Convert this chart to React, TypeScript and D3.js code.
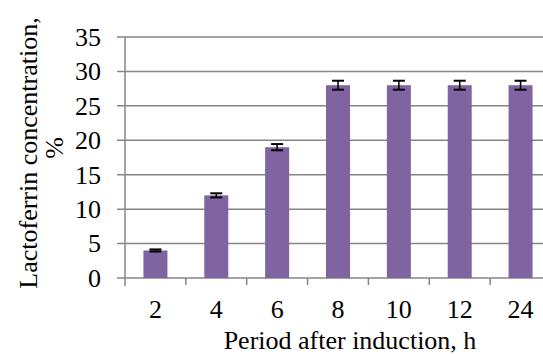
import React from "react";
import * as d3 from "d3";

const categories = ["2", "4", "6", "8", "10", "12", "24"];
const values = [4, 12, 19, 28, 28, 28, 28];
const errors = [0.15, 0.3, 0.45, 0.65, 0.65, 0.65, 0.65];
const yTicks = [0, 5, 10, 15, 20, 25, 30, 35];
const xTitle = "Period after induction, h";
const yTitle = ["Lactoferrin concentration,", "%"];

const W = 543;
const H = 354;
const left = 125;
const right = 551;
const top = 37;
const bottom = 278;
const FONT = "'Liberation Serif', 'Times New Roman', serif";
const FS = 26;

export default function App() {
  const x = d3.scaleBand<string>().domain(categories).range([left, right]).paddingInner(0).paddingOuter(0);
  const y = d3.scaleLinear().domain([0, 35]).range([bottom, top]);
  const bw = 24;
  const grid = "#868686";
  return (
    <svg width={W} height={H} style={{ position: "absolute", left: 0, top: 0, background: "#fff" }} fontFamily={FONT}>
      {yTicks.map((t) => (
        <g key={t}>
          <line x1={left - 8} x2={W} y1={y(t)} y2={y(t)} stroke={grid} strokeWidth={1.5} />
          <text x={101} y={y(t)} dy="0.34em" textAnchor="end" fontSize={FS} fill="#000">{t}</text>
        </g>
      ))}
      <line x1={left} x2={left} y1={top} y2={bottom + 8} stroke={grid} strokeWidth={1.5} />
      {categories.map((c) => (
        <line key={"t" + c} x1={x(c)! + x.bandwidth()} x2={x(c)! + x.bandwidth()} y1={bottom} y2={bottom + 7} stroke={grid} strokeWidth={1.5} />
      ))}
      {categories.map((c, i) => {
        const cx = x(c)! + x.bandwidth() / 2;
        return (
          <g key={c}>
            <rect x={cx - bw / 2} y={y(values[i])} width={bw} height={bottom - y(values[i])} fill="#8064A2" />
            <line x1={cx} x2={cx} y1={y(values[i] + errors[i])} y2={y(values[i] - errors[i])} stroke="#000" strokeWidth={1.5} />
            <line x1={cx - 6} x2={cx + 6} y1={y(values[i] + errors[i])} y2={y(values[i] + errors[i])} stroke="#000" strokeWidth={2} />
            <line x1={cx - 6} x2={cx + 6} y1={y(values[i] - errors[i])} y2={y(values[i] - errors[i])} stroke="#000" strokeWidth={2} />
            <text x={cx} y={318} textAnchor="middle" fontSize={FS} fill="#000">{c}</text>
          </g>
        );
      })}
      <text x={350} y={349} textAnchor="middle" fontSize={FS} fill="#000">{xTitle}</text>
      <text transform="translate(37,153) rotate(-90)" textAnchor="middle" fontSize={FS} fill="#000">{yTitle[0]}</text>
      <text transform="translate(63,148) rotate(-90)" textAnchor="middle" fontSize={FS} fill="#000">{yTitle[1]}</text>
    </svg>
  );
}
